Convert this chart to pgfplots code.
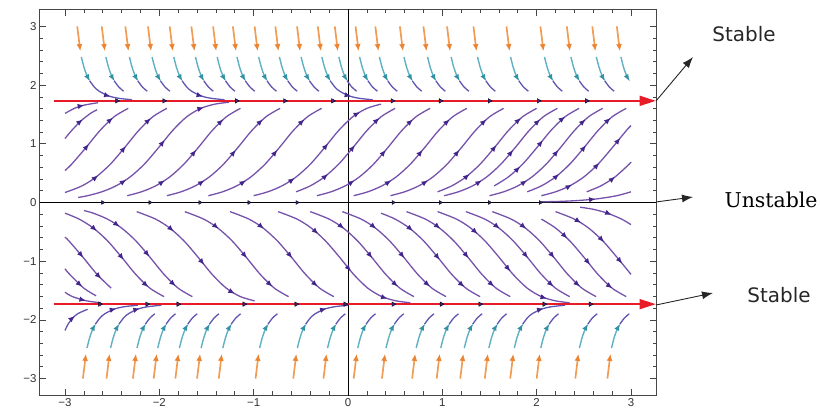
\documentclass[border=0pt]{standalone}
\usepackage{fontspec}
\setmainfont{DejaVu Sans}
\newfontfamily\tickfont{Liberation Sans}
\newfontfamily\serifb{DejaVu Serif}
\usepackage{pgfplots}
\pgfplotsset{compat=1.18}
\usetikzlibrary{arrows.meta,decorations.markings}
\definecolor{purpL}{RGB}{118,82,170}
\definecolor{purpT}{RGB}{96,86,178}
\definecolor{purpD}{RGB}{66,38,140}
\definecolor{cyanL}{RGB}{96,176,196}
\definecolor{cyanD}{RGB}{50,146,164}
\definecolor{orngL}{RGB}{240,156,84}
\definecolor{orngD}{RGB}{236,132,50}
\definecolor{redL}{RGB}{232,28,40}
\definecolor{frm}{RGB}{70,70,70}
\newcommand{\pa}{\arrow{Latex[length=6.5bp,width=5.5bp,color=purpD]}}
\tikzset{
  prp/.style={draw=purpL, line width=1.3bp, smooth, postaction={decorate},
    decoration={markings, mark=at position 0.28 with {\pa}, mark=at position 0.58 with {\pa}, mark=at position 0.86 with {\pa}}},
  prp2/.style={draw=purpL, line width=1.3bp, smooth, postaction={decorate},
    decoration={markings, mark=at position 0.4 with {\pa}, mark=at position 0.8 with {\pa}}},
  prps/.style={draw=purpL, line width=1.3bp, smooth, postaction={decorate},
    decoration={markings, mark=at position 0.6 with {\pa}}},
  ptl/.style={draw=purpT, line width=1.3bp, smooth},
  ptll/.style={draw=purpT, line width=1.3bp, smooth, postaction={decorate},
    decoration={markings, mark=at position 0.55 with {\pa}}},
  org/.style={draw=orngL, line width=1.7bp, -{Latex[length=7bp,width=6bp,color=orngD]}},
  cyn/.style={draw=cyanL, line width=1.4bp, smooth, -{Latex[length=6.5bp,width=5.5bp,color=cyanD]}},
  eqm/.style={only marks, mark=triangle*, mark size=2.6, mark options={rotate=-90, fill=purpD, draw=none}},
}
\begin{document}
\begin{tikzpicture}
\useasboundingbox (0,0) rectangle (820bp,409bp);
\begin{axis}[
  at={(40bp,14bp)}, anchor=south west,
  width=616bp, height=385bp, scale only axis,
  xmin=-3.265, xmax=3.265, ymin=-3.28, ymax=3.28,
  xtick={-3,...,3}, ytick={-3,...,3},
  xticklabels={−3,−2,−1,0,1,2,3}, yticklabels={−3,−2,−1,0,1,2,3},
  minor tick num=4, tick align=inside,
  major tick length=6bp, minor tick length=3.5bp,
  tick style={frm, line width=0.7bp},
  axis line style={frm, line width=1bp},
  tick label style={font=\tickfont\fontsize{11.5}{13}\selectfont, text=black!80},
]
% zero lines
\addplot[black, line width=1bp] coordinates {(-3.3,0) (3.3,0)};
\addplot[black, line width=1bp] coordinates {(0,-3.3) (0,3.3)};

% upper purple streamlines
\addplot[prps] coordinates {(-3.0,1.518)(-2.9,1.604)(-2.8,1.658)(-2.65,1.700)};
\addplot[prps] coordinates {(-3.0,1.09)(-2.93,1.225)(-2.83,1.392)(-2.73,1.518)(-2.66,1.58)};
\addplot[prp2] coordinates {(-3.0,0.545)(-2.93,0.652)(-2.78,0.931)(-2.63,1.225)(-2.48,1.46)(-2.33,1.604)};
\addplot[prp] coordinates {(-3.0,0.17)(-2.82,0.283)(-2.67,0.435)(-2.52,0.652)(-2.37,0.931)(-2.22,1.225)(-2.07,1.46)(-1.92,1.604)};
\addplot[prp] coordinates {(-2.86,0.086)(-2.76,0.116)(-2.61,0.182)(-2.46,0.283)(-2.31,0.435)(-2.16,0.652)(-2.01,0.931)(-1.86,1.225)(-1.71,1.46)(-1.56,1.604)(-1.41,1.676)(-1.26,1.709)};
\addplot[prp] coordinates {(-2.34,0.116)(-2.19,0.182)(-2.04,0.283)(-1.89,0.435)(-1.74,0.652)(-1.59,0.931)(-1.44,1.225)(-1.29,1.460)(-1.14,1.604)};
\addplot[prp] coordinates {(-1.92,0.116)(-1.77,0.182)(-1.62,0.283)(-1.47,0.435)(-1.32,0.652)(-1.17,0.931)(-1.02,1.225)(-0.87,1.460)(-0.72,1.604)};
\addplot[prp] coordinates {(-1.48,0.116)(-1.33,0.182)(-1.18,0.283)(-1.03,0.435)(-0.88,0.652)(-0.73,0.931)(-0.58,1.225)(-0.43,1.460)(-0.28,1.604)};
\addplot[prp] coordinates {(-1.0,0.116)(-0.85,0.182)(-0.70,0.283)(-0.55,0.435)(-0.40,0.652)(-0.25,0.931)(-0.10,1.225)(0.05,1.460)(0.20,1.604)(0.35,1.676)};
\addplot[prp] coordinates {(-0.55,0.182)(-0.40,0.283)(-0.25,0.435)(-0.10,0.652)(0.05,0.931)(0.20,1.225)(0.35,1.460)(0.50,1.604)};
\addplot[prp] coordinates {(-0.33,0.116)(-0.18,0.182)(-0.03,0.283)(0.12,0.435)(0.27,0.652)(0.42,0.931)(0.57,1.225)(0.72,1.460)(0.87,1.604)};
\addplot[prp] coordinates {(0.06,0.116)(0.21,0.182)(0.36,0.283)(0.51,0.435)(0.66,0.652)(0.81,0.931)(0.96,1.225)(1.11,1.460)(1.26,1.604)};
\addplot[prp] coordinates {(0.45,0.116)(0.60,0.182)(0.75,0.283)(0.90,0.435)(1.05,0.652)(1.20,0.931)(1.35,1.225)(1.50,1.460)(1.65,1.604)};
\addplot[prp] coordinates {(0.95,0.182)(1.10,0.283)(1.25,0.435)(1.40,0.652)(1.55,0.931)(1.70,1.225)(1.85,1.460)(2.00,1.604)};
\addplot[prp] coordinates {(1.02,0.116)(1.17,0.182)(1.32,0.283)(1.47,0.435)(1.62,0.652)(1.77,0.931)(1.92,1.225)(2.07,1.460)(2.22,1.604)};
\addplot[prp] coordinates {(1.55,0.283)(1.70,0.435)(1.85,0.652)(2.00,0.931)(2.15,1.225)(2.30,1.460)(2.45,1.604)};
\addplot[prp] coordinates {(1.50,0.116)(1.65,0.182)(1.80,0.283)(1.95,0.435)(2.10,0.652)(2.25,0.931)(2.40,1.225)(2.55,1.460)(2.70,1.604)};
\addplot[prp] coordinates {(1.90,0.182)(2.05,0.283)(2.20,0.435)(2.35,0.652)(2.50,0.931)(2.65,1.225)(2.80,1.460)(2.95,1.604)};
\addplot[prp] coordinates {(2.05,0.116)(2.20,0.182)(2.35,0.283)(2.50,0.435)(2.65,0.652)(2.80,0.931)(2.95,1.225)(3.0,1.31)};
\addplot[prps] coordinates {(2.53,0.182)(2.68,0.283)(2.83,0.435)(2.98,0.652)(3.0,0.69)};
\addplot[prps] coordinates {(2.05,0.012)(2.25,0.019)(2.45,0.035)(2.65,0.064)(2.85,0.116)(3.0,0.182)};

% lower purple streamlines
\addplot[prps] coordinates {(-3.0,-1.53)(-2.92,-1.604)(-2.77,-1.676)(-2.62,-1.709)};
\addplot[prps] coordinates {(-3.0,-1.13)(-2.95,-1.225)(-2.80,-1.46)(-2.67,-1.59)};
\addplot[prp2] coordinates {(-3.0,-0.59)(-2.96,-0.652)(-2.81,-0.931)(-2.66,-1.225)(-2.51,-1.46)};
\addplot[prp] coordinates {(-3.0,-0.182)(-2.85,-0.283)(-2.70,-0.435)(-2.55,-0.652)(-2.40,-0.931)(-2.25,-1.225)(-2.10,-1.46)(-1.95,-1.604)};
\addplot[prp] coordinates {(-2.80,-0.137)(-2.70,-0.182)(-2.55,-0.283)(-2.40,-0.435)(-2.25,-0.652)(-2.10,-0.931)(-1.95,-1.225)(-1.80,-1.46)(-1.65,-1.604)};
\addplot[prp] coordinates {(-2.24,-0.156)(-2.04,-0.283)(-1.89,-0.435)(-1.74,-0.652)(-1.59,-0.931)(-1.44,-1.225)(-1.29,-1.46)(-1.14,-1.604)(-0.99,-1.676)};
\addplot[prp] coordinates {(-1.73,-0.156)(-1.53,-0.283)(-1.38,-0.435)(-1.23,-0.652)(-1.08,-0.931)(-0.93,-1.225)(-0.78,-1.460)(-0.63,-1.604)};
\addplot[prp] coordinates {(-1.25,-0.156)(-1.05,-0.283)(-0.90,-0.435)(-0.75,-0.652)(-0.60,-0.931)(-0.45,-1.225)(-0.30,-1.460)(-0.15,-1.604)};
\addplot[prp] coordinates {(-0.74,-0.156)(-0.54,-0.283)(-0.39,-0.435)(-0.24,-0.652)(-0.09,-0.931)(0.06,-1.225)(0.21,-1.460)(0.36,-1.604)(0.51,-1.676)(0.66,-1.709)};
\addplot[prp] coordinates {(-0.40,-0.156)(-0.20,-0.283)(-0.05,-0.435)(0.10,-0.652)(0.25,-0.931)(0.40,-1.225)(0.55,-1.460)(0.70,-1.604)};
\addplot[prp] coordinates {(-0.06,-0.156)(0.14,-0.283)(0.29,-0.435)(0.44,-0.652)(0.59,-0.931)(0.74,-1.225)(0.89,-1.460)(1.04,-1.604)};
\addplot[prp] coordinates {(0.35,-0.182)(0.50,-0.283)(0.65,-0.435)(0.80,-0.652)(0.95,-0.931)(1.10,-1.225)(1.25,-1.460)(1.40,-1.604)};
\addplot[prp] coordinates {(0.62,-0.156)(0.82,-0.283)(0.97,-0.435)(1.12,-0.652)(1.27,-0.931)(1.42,-1.225)(1.57,-1.460)(1.72,-1.604)};
\addplot[prp] coordinates {(0.95,-0.156)(1.15,-0.283)(1.30,-0.435)(1.45,-0.652)(1.60,-0.931)(1.75,-1.225)(1.90,-1.460)(2.05,-1.604)(2.20,-1.676)(2.35,-1.709)};
\addplot[prp] coordinates {(1.25,-0.156)(1.45,-0.283)(1.60,-0.435)(1.75,-0.652)(1.90,-0.931)(2.05,-1.225)(2.20,-1.460)(2.35,-1.604)};
\addplot[prp] coordinates {(1.53,-0.156)(1.73,-0.283)(1.88,-0.435)(2.03,-0.652)(2.18,-0.931)(2.33,-1.225)(2.48,-1.460)(2.63,-1.604)};
\addplot[prp] coordinates {(2.05,-0.283)(2.20,-0.435)(2.35,-0.652)(2.50,-0.931)(2.65,-1.225)(2.80,-1.460)(2.95,-1.604)};
\addplot[prp] coordinates {(2.20,-0.156)(2.40,-0.283)(2.55,-0.435)(2.70,-0.652)(2.85,-0.931)(3.0,-1.225)};
\addplot[prps] coordinates {(2.46,-0.080)(2.60,-0.116)(2.75,-0.182)(2.90,-0.283)(3.0,-0.377)};
\addplot[ptll] coordinates {(-3.0,-2.18)(-2.967,-2.072)(-2.917,-1.965)(-2.86,-1.89)(-2.76,-1.82)};

% top columns: orange, cyan, tail
\addplot[org] coordinates {(-2.87,3)(-2.838,2.58)};
\addplot[cyn] coordinates {(-2.827,2.48)(-2.798,2.30)(-2.768,2.166)(-2.738,2.072)};
\addplot[ptll] coordinates {(-2.738,2.072)(-2.688,1.965)(-2.638,1.896)(-2.538,1.816)(-2.438,1.777)(-2.288,1.750)};
\addplot[org] coordinates {(-2.61,3)(-2.578,2.58)};
\addplot[cyn] coordinates {(-2.567,2.48)(-2.538,2.30)(-2.508,2.166)(-2.478,2.072)};
\addplot[ptl] coordinates {(-2.478,2.072)(-2.428,1.965)(-2.378,1.896)};
\addplot[org] coordinates {(-2.36,3)(-2.328,2.58)};
\addplot[cyn] coordinates {(-2.317,2.48)(-2.288,2.30)(-2.258,2.166)(-2.228,2.072)};
\addplot[ptl] coordinates {(-2.228,2.072)(-2.178,1.965)(-2.128,1.896)};
\addplot[org] coordinates {(-2.12,3)(-2.088,2.58)};
\addplot[cyn] coordinates {(-2.077,2.48)(-2.048,2.30)(-2.018,2.166)(-1.988,2.072)};
\addplot[ptl] coordinates {(-1.988,2.072)(-1.938,1.965)(-1.888,1.896)};
\addplot[org] coordinates {(-1.89,3)(-1.858,2.58)};
\addplot[cyn] coordinates {(-1.847,2.48)(-1.818,2.30)(-1.788,2.166)(-1.758,2.072)};
\addplot[ptll] coordinates {(-1.758,2.072)(-1.708,1.965)(-1.658,1.896)(-1.558,1.816)(-1.458,1.777)(-1.308,1.750)};
\addplot[org] coordinates {(-1.66,3)(-1.628,2.58)};
\addplot[cyn] coordinates {(-1.617,2.48)(-1.588,2.30)(-1.558,2.166)(-1.528,2.072)};
\addplot[ptl] coordinates {(-1.528,2.072)(-1.478,1.965)(-1.428,1.896)};
\addplot[org] coordinates {(-1.43,3)(-1.398,2.58)};
\addplot[cyn] coordinates {(-1.387,2.48)(-1.358,2.30)(-1.328,2.166)(-1.298,2.072)};
\addplot[ptl] coordinates {(-1.298,2.072)(-1.248,1.965)(-1.198,1.896)};
\addplot[org] coordinates {(-1.22,3)(-1.188,2.58)};
\addplot[cyn] coordinates {(-1.177,2.48)(-1.148,2.30)(-1.118,2.166)(-1.088,2.072)};
\addplot[ptl] coordinates {(-1.088,2.072)(-1.038,1.965)(-0.988,1.896)};
\addplot[org] coordinates {(-0.99,3)(-0.958,2.58)};
\addplot[cyn] coordinates {(-0.947,2.48)(-0.918,2.30)(-0.888,2.166)(-0.858,2.072)};
\addplot[ptl] coordinates {(-0.858,2.072)(-0.808,1.965)(-0.758,1.896)};
\addplot[org] coordinates {(-0.77,3)(-0.738,2.58)};
\addplot[cyn] coordinates {(-0.727,2.48)(-0.698,2.30)(-0.668,2.166)(-0.638,2.072)};
\addplot[ptl] coordinates {(-0.638,2.072)(-0.588,1.965)(-0.538,1.896)};
\addplot[org] coordinates {(-0.54,3)(-0.508,2.58)};
\addplot[cyn] coordinates {(-0.497,2.48)(-0.468,2.30)(-0.438,2.166)(-0.408,2.072)};
\addplot[ptl] coordinates {(-0.408,2.072)(-0.358,1.965)(-0.308,1.896)};
\addplot[org] coordinates {(-0.32,3)(-0.288,2.58)};
\addplot[cyn] coordinates {(-0.277,2.48)(-0.248,2.30)(-0.218,2.166)(-0.188,2.072)};
\addplot[ptll] coordinates {(-0.188,2.072)(-0.138,1.965)(-0.088,1.896)(0.012,1.816)(0.112,1.777)(0.262,1.750)};
\addplot[org] coordinates {(-0.14,3)(-0.108,2.58)};
\addplot[cyn] coordinates {(-0.097,2.48)(-0.068,2.30)(-0.038,2.166)(-0.008,2.072)};
\addplot[ptl] coordinates {(-0.008,2.072)(0.042,1.965)(0.092,1.896)};
\addplot[org] coordinates {(0.08,3)(0.112,2.58)};
\addplot[cyn] coordinates {(0.123,2.48)(0.152,2.30)(0.182,2.166)(0.212,2.072)};
\addplot[ptl] coordinates {(0.212,2.072)(0.262,1.965)(0.312,1.896)};
\addplot[org] coordinates {(0.29,3)(0.322,2.58)};
\addplot[cyn] coordinates {(0.333,2.48)(0.362,2.30)(0.392,2.166)(0.422,2.072)};
\addplot[ptl] coordinates {(0.422,2.072)(0.472,1.965)(0.522,1.896)};
\addplot[org] coordinates {(0.55,3)(0.582,2.58)};
\addplot[cyn] coordinates {(0.593,2.48)(0.622,2.30)(0.652,2.166)(0.682,2.072)};
\addplot[ptl] coordinates {(0.682,2.072)(0.732,1.965)(0.782,1.896)};
\addplot[org] coordinates {(0.80,3)(0.832,2.58)};
\addplot[cyn] coordinates {(0.843,2.48)(0.872,2.30)(0.902,2.166)(0.932,2.072)};
\addplot[ptl] coordinates {(0.932,2.072)(0.982,1.965)(1.032,1.896)};
\addplot[org] coordinates {(1.05,3)(1.082,2.58)};
\addplot[cyn] coordinates {(1.093,2.48)(1.122,2.30)(1.152,2.166)(1.182,2.072)};
\addplot[ptl] coordinates {(1.182,2.072)(1.232,1.965)(1.282,1.896)};
\addplot[org] coordinates {(1.33,3)(1.362,2.58)};
\addplot[cyn] coordinates {(1.373,2.48)(1.402,2.30)(1.432,2.166)(1.462,2.072)};
\addplot[ptl] coordinates {(1.462,2.072)(1.512,1.965)(1.562,1.896)};
\addplot[org] coordinates {(1.68,3)(1.712,2.58)};
\addplot[cyn] coordinates {(1.723,2.48)(1.752,2.30)(1.782,2.166)(1.812,2.072)};
\addplot[ptl] coordinates {(1.812,2.072)(1.862,1.965)(1.912,1.896)};
\addplot[org] coordinates {(2.04,3)(2.072,2.58)};
\addplot[cyn] coordinates {(2.083,2.48)(2.112,2.30)(2.142,2.166)(2.172,2.072)};
\addplot[ptl] coordinates {(2.172,2.072)(2.222,1.965)(2.272,1.896)};
\addplot[org] coordinates {(2.32,3)(2.352,2.58)};
\addplot[cyn] coordinates {(2.363,2.48)(2.392,2.30)(2.422,2.166)(2.452,2.072)};
\addplot[ptl] coordinates {(2.452,2.072)(2.502,1.965)(2.552,1.896)};
\addplot[org] coordinates {(2.59,3)(2.622,2.58)};
\addplot[cyn] coordinates {(2.633,2.48)(2.662,2.30)(2.692,2.166)(2.722,2.072)};
\addplot[ptl] coordinates {(2.722,2.072)(2.772,1.965)(2.822,1.896)};
\addplot[org] coordinates {(2.85,3)(2.882,2.58)};
\addplot[cyn] coordinates {(2.893,2.48)(2.922,2.30)(2.952,2.166)(2.982,2.072)};

% bottom columns
\addplot[org] coordinates {(-2.81,-3)(-2.778,-2.58)};
\addplot[cyn] coordinates {(-2.767,-2.48)(-2.738,-2.30)(-2.708,-2.166)(-2.678,-2.072)};
\addplot[ptll] coordinates {(-2.678,-2.072)(-2.628,-1.965)(-2.578,-1.896)(-2.478,-1.816)(-2.378,-1.777)(-2.228,-1.750)};
\addplot[org] coordinates {(-2.56,-3)(-2.528,-2.58)};
\addplot[cyn] coordinates {(-2.517,-2.48)(-2.488,-2.30)(-2.458,-2.166)(-2.428,-2.072)};
\addplot[ptll] coordinates {(-2.428,-2.072)(-2.378,-1.965)(-2.328,-1.896)(-2.228,-1.816)(-2.128,-1.777)(-1.978,-1.750)};
\addplot[org] coordinates {(-2.28,-3)(-2.248,-2.58)};
\addplot[cyn] coordinates {(-2.237,-2.48)(-2.208,-2.30)(-2.178,-2.166)(-2.148,-2.072)};
\addplot[ptl] coordinates {(-2.148,-2.072)(-2.098,-1.965)(-2.048,-1.896)};
\addplot[org] coordinates {(-2.06,-3)(-2.028,-2.58)};
\addplot[cyn] coordinates {(-2.017,-2.48)(-1.988,-2.30)(-1.958,-2.166)(-1.928,-2.072)};
\addplot[ptl] coordinates {(-1.928,-2.072)(-1.878,-1.965)(-1.828,-1.896)};
\addplot[org] coordinates {(-1.83,-3)(-1.798,-2.58)};
\addplot[cyn] coordinates {(-1.787,-2.48)(-1.758,-2.30)(-1.728,-2.166)(-1.698,-2.072)};
\addplot[ptl] coordinates {(-1.698,-2.072)(-1.648,-1.965)(-1.598,-1.896)};
\addplot[org] coordinates {(-1.60,-3)(-1.568,-2.58)};
\addplot[cyn] coordinates {(-1.557,-2.48)(-1.528,-2.30)(-1.498,-2.166)(-1.468,-2.072)};
\addplot[ptl] coordinates {(-1.468,-2.072)(-1.418,-1.965)(-1.368,-1.896)};
\addplot[org] coordinates {(-1.37,-3)(-1.338,-2.58)};
\addplot[cyn] coordinates {(-1.327,-2.48)(-1.298,-2.30)(-1.268,-2.166)(-1.238,-2.072)};
\addplot[ptl] coordinates {(-1.238,-2.072)(-1.188,-1.965)(-1.138,-1.896)};
\addplot[org] coordinates {(-0.98,-3)(-0.948,-2.58)};
\addplot[cyn] coordinates {(-0.937,-2.48)(-0.908,-2.30)(-0.878,-2.166)(-0.848,-2.072)};
\addplot[ptl] coordinates {(-0.848,-2.072)(-0.798,-1.965)(-0.748,-1.896)};
\addplot[org] coordinates {(-0.58,-3)(-0.548,-2.58)};
\addplot[cyn] coordinates {(-0.537,-2.48)(-0.508,-2.30)(-0.478,-2.166)(-0.448,-2.072)};
\addplot[ptll] coordinates {(-0.448,-2.072)(-0.398,-1.965)(-0.348,-1.896)(-0.248,-1.816)(-0.148,-1.777)(0.002,-1.750)};
\addplot[org] coordinates {(-0.26,-3)(-0.228,-2.58)};
\addplot[cyn] coordinates {(-0.217,-2.48)(-0.188,-2.30)(-0.158,-2.166)(-0.128,-2.072)};
\addplot[ptl] coordinates {(-0.128,-2.072)(-0.078,-1.965)(-0.028,-1.896)};
\addplot[org] coordinates {(0.06,-3)(0.092,-2.58)};
\addplot[cyn] coordinates {(0.103,-2.48)(0.132,-2.30)(0.162,-2.166)(0.192,-2.072)};
\addplot[ptl] coordinates {(0.192,-2.072)(0.242,-1.965)(0.292,-1.896)};
\addplot[org] coordinates {(0.36,-3)(0.392,-2.58)};
\addplot[cyn] coordinates {(0.403,-2.48)(0.432,-2.30)(0.462,-2.166)(0.492,-2.072)};
\addplot[ptl] coordinates {(0.492,-2.072)(0.542,-1.965)(0.592,-1.896)};
\addplot[org] coordinates {(0.68,-3)(0.712,-2.58)};
\addplot[cyn] coordinates {(0.723,-2.48)(0.752,-2.30)(0.782,-2.166)(0.812,-2.072)};
\addplot[ptl] coordinates {(0.812,-2.072)(0.862,-1.965)(0.912,-1.896)};
\addplot[org] coordinates {(0.94,-3)(0.972,-2.58)};
\addplot[cyn] coordinates {(0.983,-2.48)(1.012,-2.30)(1.042,-2.166)(1.072,-2.072)};
\addplot[ptl] coordinates {(1.072,-2.072)(1.122,-1.965)(1.172,-1.896)};
\addplot[org] coordinates {(1.19,-3)(1.222,-2.58)};
\addplot[cyn] coordinates {(1.233,-2.48)(1.262,-2.30)(1.292,-2.166)(1.322,-2.072)};
\addplot[ptl] coordinates {(1.322,-2.072)(1.372,-1.965)(1.422,-1.896)};
\addplot[org] coordinates {(1.45,-3)(1.482,-2.58)};
\addplot[cyn] coordinates {(1.493,-2.48)(1.522,-2.30)(1.552,-2.166)(1.582,-2.072)};
\addplot[ptl] coordinates {(1.582,-2.072)(1.632,-1.965)(1.682,-1.896)};
\addplot[org] coordinates {(1.72,-3)(1.752,-2.58)};
\addplot[cyn] coordinates {(1.763,-2.48)(1.792,-2.30)(1.822,-2.166)(1.852,-2.072)};
\addplot[ptll] coordinates {(1.852,-2.072)(1.902,-1.965)(1.952,-1.896)(2.052,-1.816)(2.152,-1.777)(2.302,-1.750)};
\addplot[org] coordinates {(2.00,-3)(2.032,-2.58)};
\addplot[cyn] coordinates {(2.043,-2.48)(2.072,-2.30)(2.102,-2.166)(2.132,-2.072)};
\addplot[ptl] coordinates {(2.132,-2.072)(2.182,-1.965)(2.232,-1.896)};
\addplot[org] coordinates {(2.41,-3)(2.442,-2.58)};
\addplot[cyn] coordinates {(2.453,-2.48)(2.482,-2.30)(2.512,-2.166)(2.542,-2.072)};
\addplot[ptl] coordinates {(2.542,-2.072)(2.592,-1.965)(2.642,-1.896)};
\addplot[org] coordinates {(2.75,-3)(2.782,-2.58)};
\addplot[cyn] coordinates {(2.793,-2.48)(2.822,-2.30)(2.852,-2.166)(2.882,-2.072)};
\addplot[ptl] coordinates {(2.882,-2.072)(2.932,-1.965)(2.982,-1.896)};

% stable equilibria (red) and unstable (y=0)
\addplot[redL, line width=1.4bp, -{Triangle[length=16bp,width=10bp]}] coordinates {(-3.12,1.732) (3.262,1.732)};
\addplot[redL, line width=1.4bp, -{Triangle[length=16bp,width=10bp]}] coordinates {(-3.12,-1.732) (3.262,-1.732)};
\addplot[eqm] coordinates {(-2.45,1.732)(-1.95,1.732)(-1.18,1.732)(-0.67,1.732)(-0.16,1.732)(0.47,1.732)(0.98,1.732)(1.5,1.732)(2.02,1.732)(2.53,1.732)};
\addplot[eqm] coordinates {(-2.63,-1.732)(-2.13,-1.732)(-1.8,-1.732)(-1.1,-1.732)(-0.55,-1.732)(-0.03,-1.732)(0.48,-1.732)(0.99,-1.732)(1.4,-1.732)(2.08,-1.732)(2.57,-1.732)};
\addplot[eqm, mark size=2.2] coordinates {(-2.6,0)(-2.1,0)(-1.57,0)(-1.05,0)(-0.54,0)(0.48,0)(0.98,0)(1.5,0)(2.04,0)};
\end{axis}

% annotations
\draw[black!85, line width=0.9bp, -{Latex[length=11bp,width=8bp]}] (656bp,308bp) -- (693bp,352bp);
\node[text=black!85, font=\fontsize{20}{24}\selectfont] at (744bp,375bp) {Stable};
\draw[black!85, line width=0.9bp, -{Latex[length=11bp,width=8bp]}] (656bp,207bp) -- (693bp,212bp);
\node[text=black, font=\serifb\fontsize{20.5}{24}\selectfont] at (771bp,209bp) {Unstable};
\draw[black!85, line width=0.9bp, -{Latex[length=11bp,width=8bp]}] (656bp,104bp) -- (713bp,116bp);
\node[text=black!85, font=\fontsize{20}{24}\selectfont] at (779bp,114bp) {Stable};
\end{tikzpicture}
\end{document}
